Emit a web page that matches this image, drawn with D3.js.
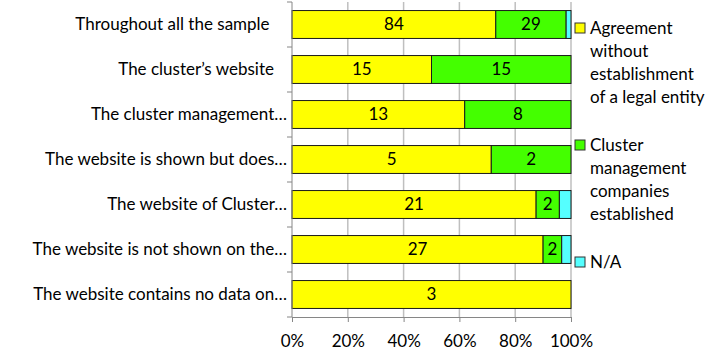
<!DOCTYPE html>
<html>
<head>
<meta charset="utf-8">
<script src="https://cdn.jsdelivr.net/npm/d3@7"></script>
<style>
  body { margin: 0; background: #fff; }
  text { font-family: Lato, "Open Sans", sans-serif; fill: #000; }
</style>
</head>
<body>
<svg id="chart" width="722" height="351"></svg>
<script>
// categories (top to bottom)
var categories = [
    "Throughout all the sample\u00a0\u00a0\u00a0\u00a0",
    "The cluster\u2019s website\u00a0\u00a0\u00a0",
    "The cluster management\u2026",
    "The website is shown but does\u2026",
    "The website of Cluster\u2026",
    "The website is not shown on the\u2026",
    "The website contains no data on\u2026"
];
// series values
var agreement = [84, 15, 13, 5, 21, 27, 3];
var companies = [29, 15, 8, 2, 2, 2, 0];
var na = [2, 0, 0, 0, 1, 1, 0];
var seriesNames = ["Agreement without establishment of a legal entity", "Cluster management companies established", "N/A"];
var legendLines = [
    ["Agreement", "without", "establishment", "of a legal entity"],
    ["Cluster", "management", "companies", "established"],
    ["N/A"]
];
var xTicks = [0, 0.2, 0.4, 0.6, 0.8, 1];
var colors = ["#ffff00", "#44ff00", "#55ffff"];

var svg = d3.select("#chart");
var plotLeft = 292, plotRight = 571, plotTop = 2, plotBottom = 317;

var rows = categories.map(function (c, i) {
    return { cat: c, s0: agreement[i], s1: companies[i], s2: na[i] };
});
var keys = ["s0", "s1", "s2"];

var stack = d3.stack().keys(keys).offset(d3.stackOffsetExpand);
var stacked = stack(rows);

var x = d3.scaleLinear().domain([0, 1]).range([plotLeft, plotRight]);
var y = d3.scaleBand().domain(categories).range([plotTop, plotBottom])
    .paddingInner(0.38).paddingOuter(0.19);

// gridlines
svg.append("g").selectAll("line")
    .data(xTicks.slice(1))
    .enter().append("line")
    .attr("x1", function (d) { return x(d); })
    .attr("x2", function (d) { return x(d); })
    .attr("y1", plotTop).attr("y2", plotBottom)
    .attr("stroke", "#bfbfbf").attr("stroke-width", 1.5);

// bars
var groups = svg.append("g").selectAll("g")
    .data(stacked)
    .enter().append("g")
    .attr("fill", function (d, i) { return colors[i]; });

groups.selectAll("rect")
    .data(function (d) { return d.filter(function (s) { return s[1] - s[0] > 0; }); })
    .enter().append("rect")
    .attr("x", function (d) { return x(d[0]); })
    .attr("y", function (d) { return y(d.data.cat); })
    .attr("width", function (d) { return x(d[1]) - x(d[0]); })
    .attr("height", y.bandwidth())
    .attr("stroke", "#1a1a1a").attr("stroke-width", 1);

// data labels (skip the thin N/A slices)
stacked.forEach(function (layer, i) {
    if (i === 2) return;
    svg.append("g").selectAll("text")
        .data(layer.filter(function (d) { return d.data[keys[i]] > 0; }))
        .enter().append("text")
        .attr("x", function (d) { return (x(d[0]) + x(d[1])) / 2; })
        .attr("y", function (d) { return y(d.data.cat) + y.bandwidth() / 2; })
        .attr("dy", "0.35em")
        .attr("text-anchor", "middle")
        .style("font-size", "17px")
        .text(function (d) { return d.data[keys[i]]; });
});

// y axis
var yAxis = svg.append("g").attr("transform", "translate(" + plotLeft + ",0)");
yAxis.append("line").attr("y1", plotTop).attr("y2", plotBottom).attr("stroke", "#868686");
var bounds = categories.map(function (c) { return y(c) - y.step() * y.paddingInner() / 2; }).concat([plotBottom]);
yAxis.selectAll(".tk").data(bounds).enter().append("line")
    .attr("x1", -5).attr("x2", 0)
    .attr("y1", function (d) { return d; }).attr("y2", function (d) { return d; })
    .attr("stroke", "#868686");
yAxis.selectAll("text").data(categories).enter().append("text")
    .attr("x", -5)
    .attr("y", function (d) { return y(d) + y.bandwidth() / 2; })
    .attr("dy", "0.35em")
    .attr("text-anchor", "end")
    .style("font-size", "17px")
    .style("white-space", "pre")
    .text(function (d) { return d; });

// x axis
var xAxis = svg.append("g")
    .attr("transform", "translate(0," + plotBottom + ")")
    .call(d3.axisBottom(x).tickValues(xTicks).tickFormat(d3.format(".0%")).tickSize(5).tickPadding(13));
xAxis.select(".domain").attr("stroke", "#868686");
xAxis.selectAll(".tick line").attr("stroke", "#868686");
xAxis.selectAll("text").style("font-size", "17px").style("font-family", "Lato, sans-serif").attr("fill", "#000");

// legend
var legendY = [28, 145, 262];
var legend = svg.append("g").selectAll("g")
    .data(seriesNames)
    .enter().append("g")
    .attr("transform", function (d, i) { return "translate(575," + legendY[i] + ")"; });
legend.append("rect")
    .attr("x", 0).attr("y", -5).attr("width", 10).attr("height", 10)
    .attr("fill", function (d, i) { return colors[i]; })
    .attr("stroke", "#333").attr("stroke-width", 1);
legend.append("text")
    .attr("x", 15)
    .style("font-size", "17px")
    .selectAll("tspan")
    .data(function (d, i) { return legendLines[i]; })
    .enter().append("tspan")
    .attr("x", 15)
    .attr("y", function (d, j) { return j * 23; })
    .attr("dy", "0.35em")
    .text(function (d) { return d; });
</script>
</body>
</html>
